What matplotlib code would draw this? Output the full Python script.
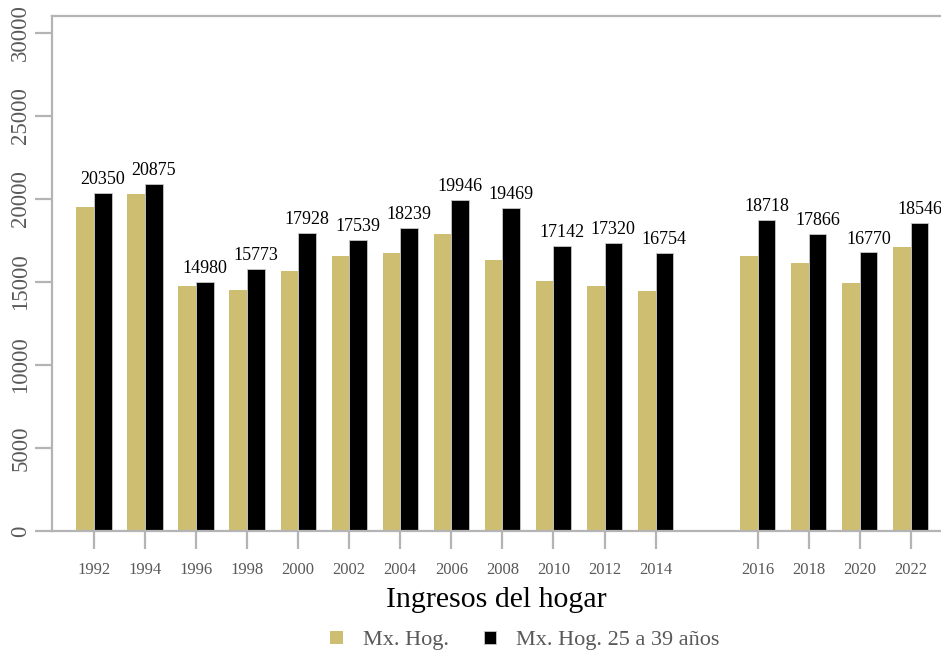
import matplotlib
matplotlib.use("Agg")
import matplotlib.pyplot as plt
import numpy as np

years = ["1992", "1994", "1996", "1998", "2000", "2002", "2004", "2006",
         "2008", "2010", "2012", "2014", "2016", "2018", "2020", "2022"]
mx_hog = [19520, 20280, 14760, 14520, 15660, 16570, 16730, 17850,
          16330, 15060, 14760, 14420, 16570, 16160, 14900, 17090]
mx_hog_25_39 = [20350, 20875, 14980, 15773, 17928, 17539, 18239, 19946,
                19469, 17142, 17320, 16754, 18718, 17866, 16770, 18546]

# slot positions: one empty slot between 2014 and 2016
pos = np.array([i if i < 12 else i + 1 for i in range(len(years))], dtype=float)

plt.rcParams['font.family'] = ['Liberation Serif', 'DejaVu Serif']

fig = plt.figure(figsize=(9.41, 6.55), dpi=100)
ax = fig.add_axes([0.0553, 0.1893, 0.9447, 0.7863])

gold = "#CEBE72"
w = 0.345
ax.bar(pos - w / 2, mx_hog, width=w, color=gold, label="Mx. Hog.", zorder=2)
ax.bar(pos + w / 2, mx_hog_25_39, width=w, color="black",
       edgecolor="#c8c8c8", linewidth=0.6, label="Mx. Hog. 25 a 39 años", zorder=2)

for x, v in zip(pos + w / 2, mx_hog_25_39):
    ax.annotate(f"{v}", (x, v), xytext=(0, 3.5), textcoords="offset points",
                ha="center", va="bottom", fontsize=13, color="black")

ax.set_xlim(-0.82, 16.59)
ax.set_ylim(0, 31000)
ax.set_yticks(np.arange(0, 30001, 5000))
ax.set_xticks(pos)
ax.set_xticklabels(years)

axcol = "#b4b4b4"
for s in ["left", "bottom", "top"]:
    ax.spines[s].set_color(axcol)
    ax.spines[s].set_linewidth(1.6)
ax.spines["right"].set_visible(False)

ax.tick_params(axis="x", length=13, width=1.6, color=axcol, pad=9,
               labelsize=12, labelcolor="#595959")
ax.tick_params(axis="y", length=12, width=1.6, color=axcol, pad=3,
               labelsize=16.5, labelcolor="#595959")
for lab in ax.get_yticklabels():
    lab.set_rotation(90)
    lab.set_va("center")

ax.set_xlabel("Ingresos del hogar", fontsize=21.5, color="black", labelpad=7)

leg = fig.legend(loc="center", bbox_to_anchor=(0.558, 0.022), ncol=2, frameon=False,
                 fontsize=16, handlelength=0.55, handleheight=0.55, columnspacing=1.6,
                 handletextpad=0.9)
for t in leg.get_texts():
    t.set_color("#595959")

fig.savefig("out.png", dpi=100)
